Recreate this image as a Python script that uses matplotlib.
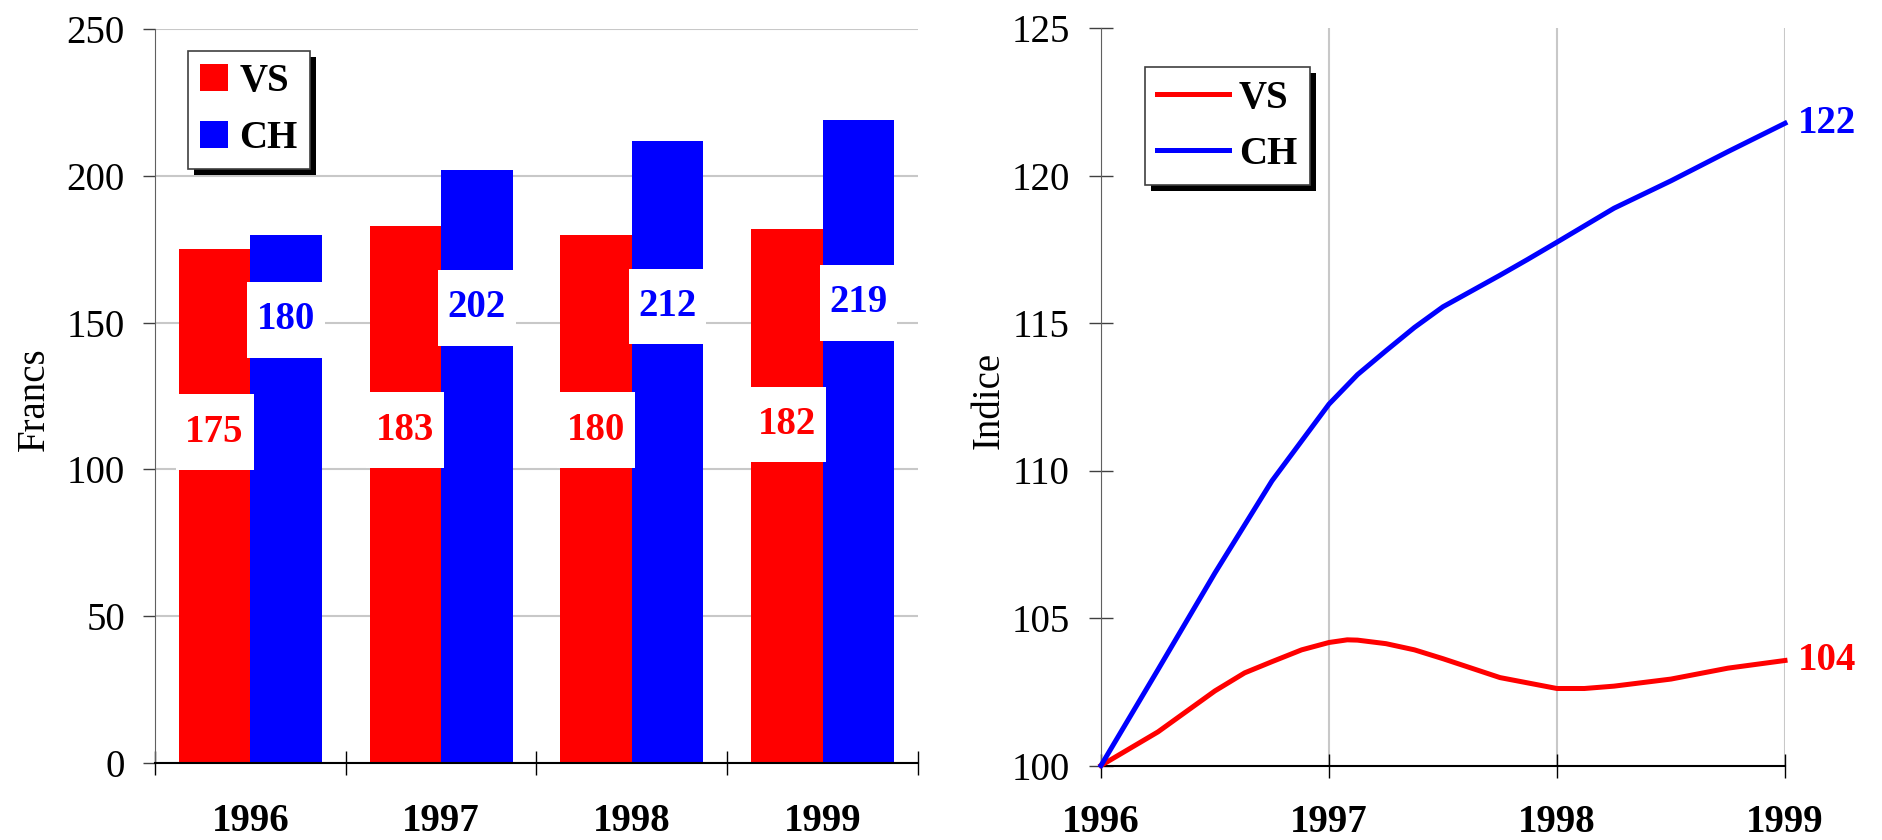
import numpy as np
import matplotlib
matplotlib.use("Agg")
import matplotlib.pyplot as plt
from matplotlib.path import Path
from matplotlib.patches import Rectangle
from matplotlib.transforms import IdentityTransform

plt.rcParams['font.family'] = ['Liberation Serif', 'DejaVu Serif']

### data
years = ['1996', '1997', '1998', '1999']
vs_francs = [175, 183, 180, 182]
ch_francs = [180, 202, 212, 219]
# where the value boxes sit (in Francs)
vs_label_y = [112.7, 113.4, 113.3, 115.3]
ch_label_y = [151.0, 155.1, 155.5, 156.8]

vs_t = [1996.0, 1996.25, 1996.5, 1996.63, 1996.75, 1996.88, 1997.0, 1997.08, 1997.125,
        1997.25, 1997.375, 1997.5, 1997.75, 1998.0, 1998.12, 1998.25, 1998.5, 1998.75, 1999.0]
vs_index = [100.0, 101.14, 102.53, 103.14, 103.52, 103.92, 104.17, 104.26, 104.25,
            104.13, 103.92, 103.62, 102.98, 102.61, 102.61, 102.69, 102.93, 103.3, 103.56]
ch_t = [1996.0, 1996.25, 1996.5, 1996.75, 1997.0, 1997.125, 1997.25, 1997.375, 1997.5,
        1997.75, 1997.87, 1998.0, 1998.25, 1998.5, 1998.75, 1999.0]
ch_index = [100.0, 103.25, 106.53, 109.65, 112.25, 113.25, 114.06, 114.85, 115.55,
            116.62, 117.15, 117.74, 118.89, 119.82, 120.81, 121.77]

RED = '#ff0000'
BLUE = '#0000ff'
FS = 28


def label_box(x0, y0, width, height, mutation_size):
    # white box, wider padding vertically than horizontally
    px = 0.25 * mutation_size
    py = 0.5 * mutation_size
    x0, y0 = x0 - px, y0 - py
    x1, y1 = x0 + width + 2 * px, y0 + height + 2 * py
    return Path([(x0, y0), (x1, y0), (x1, y1), (x0, y1), (x0, y0)], closed=True)


def add_shadow(fig, ax, leg, off=6):
    fig.canvas.draw()
    bb = leg.get_frame().get_window_extent()
    sh = Rectangle((bb.x0 + off, bb.y0 - off), bb.width, bb.height,
                   transform=IdentityTransform(), facecolor='black',
                   edgecolor='none', zorder=4.9, clip_on=False)
    ax.add_artist(sh)


fig = plt.figure(figsize=(18.83, 8.4), dpi=100)
W, H = 1883, 840
ax1 = fig.add_axes([155 / W, 1 - 763 / H, (918 - 155) / W, (763 - 29) / H])
ax2 = fig.add_axes([1101 / W, 1 - 765.5 / H, (1785 - 1101) / W, (765.5 - 28) / H])

### bar chart
x = np.arange(len(years))
bw = 0.375
ax1.bar(x - bw / 2, vs_francs, bw, color=RED, label='VS', zorder=2)
ax1.bar(x + bw / 2, ch_francs, bw, color=BLUE, label='CH', zorder=2)
for i in range(len(years)):
    ax1.text(x[i] - bw / 2, vs_label_y[i], str(vs_francs[i]), color=RED, fontsize=FS,
             fontweight='bold', ha='center', va='center', zorder=4,
             bbox=dict(boxstyle=label_box, facecolor='white', edgecolor='none'))
    ax1.text(x[i] + bw / 2, ch_label_y[i], str(ch_francs[i]), color=BLUE, fontsize=FS,
             fontweight='bold', ha='center', va='center', zorder=4,
             bbox=dict(boxstyle=label_box, facecolor='white', edgecolor='none'))

ax1.set_xlim(-0.5, 3.5)
ax1.set_ylim(0, 250)
ax1.set_yticks(np.arange(0, 251, 50))
ax1.yaxis.grid(True, color='#c8c8c8', linewidth=1.5, zorder=0)
ax1.set_axisbelow(True)
ax1.set_xticks(np.arange(-0.5, 4, 1))
ax1.set_xticklabels([])
ax1.set_xticks(x, years, minor=True)
ax1.tick_params(axis='x', which='major', direction='inout', length=17, width=1, color='black')
ax1.tick_params(axis='x', which='minor', length=0, pad=29, labelsize=FS)
for t in ax1.get_xticklabels(minor=True):
    t.set_fontweight('bold')
ax1.tick_params(axis='y', direction='out', length=8.6, width=1, color='#404040',
                pad=13, labelsize=FS)
ax1.set_ylabel('Francs', fontsize=FS)
ax1.yaxis.set_label_coords(-0.134, 0.495)
for s in ['top', 'right']:
    ax1.spines[s].set_visible(False)
ax1.spines['left'].set_color('#606060')
ax1.spines['bottom'].set_color('black')
ax1.spines['bottom'].set_linewidth(1.5)

leg1 = ax1.legend(loc='upper left', bbox_to_anchor=(0.0432, 0.970),
                  prop={'weight': 'bold', 'size': FS}, fancybox=False, framealpha=1,
                  edgecolor='#404040', handlelength=0.7, handleheight=0.7,
                  handletextpad=0.3, labelspacing=0.5, borderpad=0.32, borderaxespad=0)
leg1.get_frame().set_linewidth(1.2)

### index chart
ax2.plot(vs_t, vs_index, color=RED, linewidth=3.6, label='VS', zorder=3, clip_on=False)
ax2.plot(ch_t, ch_index, color=BLUE, linewidth=3.6, label='CH', zorder=3, clip_on=False)
ax2.annotate(f'{vs_index[-1]:.0f}', (vs_t[-1], vs_index[-1]), xytext=(9, 0),
             textcoords='offset points', color=RED, fontsize=FS, fontweight='bold',
             ha='left', va='center', annotation_clip=False)
ax2.annotate(f'{ch_index[-1]:.0f}', (ch_t[-1], ch_index[-1]), xytext=(9, 0),
             textcoords='offset points', color=BLUE, fontsize=FS, fontweight='bold',
             ha='left', va='center', annotation_clip=False)

ax2.set_xlim(1996, 1999)
ax2.set_ylim(100, 125)
ax2.set_xticks([1996, 1997, 1998, 1999], years)
ax2.set_yticks(np.arange(100, 126, 5))
ax2.xaxis.grid(True, color='#c8c8c8', linewidth=1.5, zorder=0)
ax2.set_axisbelow(True)
ax2.tick_params(axis='x', direction='inout', length=17, width=1, color='black',
                pad=19, labelsize=FS)
for t in ax2.get_xticklabels():
    t.set_fontweight('bold')
ax2.tick_params(axis='y', direction='inout', length=17, width=1, color='#404040',
                pad=14, labelsize=FS)
ax2.set_ylabel('Indice', fontsize=FS)
ax2.yaxis.set_label_coords(-0.137, 0.495)
for s in ['top', 'right']:
    ax2.spines[s].set_visible(False)
ax2.spines['left'].set_color('#606060')
ax2.spines['bottom'].set_color('black')
ax2.spines['bottom'].set_linewidth(1.5)

leg2 = ax2.legend(loc='upper left', bbox_to_anchor=(0.0643, 0.947),
                  prop={'weight': 'bold', 'size': FS}, fancybox=False, framealpha=1,
                  edgecolor='#404040', handlelength=1.85, handletextpad=0.25,
                  labelspacing=0.5, borderpad=0.32, borderaxespad=0)
leg2.get_frame().set_linewidth(1.2)

add_shadow(fig, ax1, leg1)
add_shadow(fig, ax2, leg2)

fig.savefig('out.png', dpi=100)
